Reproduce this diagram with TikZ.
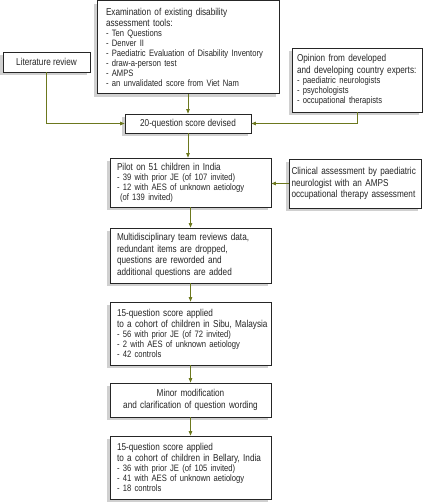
\documentclass[tikz,border=0pt]{standalone}
\usepackage{fontspec}
\setmainfont[FakeStretch=0.82]{Liberation Sans}
\usetikzlibrary{arrows.meta,shadows}

\definecolor{arrowolive}{RGB}{108,120,30}
\definecolor{shadowgrey}{RGB}{208,208,208}
\newcommand{\hdfont}{\fontsize{10}{11.5}\selectfont}
\newcommand{\itfont}{\fontsize{9.3}{10}\selectfont}
\hyphenpenalty=10000
\exhyphenpenalty=10000

\begin{document}
\begin{tikzpicture}[x=1pt, y=-1pt,
  box/.style={draw=black!85, fill=white, line width=0.8pt, text=black!85,
    align=left, inner xsep=7pt, inner ysep=2pt, font=\hdfont,
    general shadow={fill=shadowgrey, shadow xshift=-3pt, shadow yshift=-3pt}},
  cbox/.style={box, align=center},
  arr/.style={draw=arrowolive, line width=0.7pt, -{Triangle[length=4.5pt,width=3.5pt]}}]

\useasboundingbox (0,0) rectangle (424,503);

% sources
\node (exam) at (188,47.3) [box, inner xsep=9pt, text width=164pt, minimum height=93pt]
  {{\hdfont Examination of existing disability\\ assessment tools:\par}%
   {\itfont - Ten Questions\\ - Denver II\\ - Paediatric Evaluation of Disability Inventory\\
    - draw-a-person test\\ - AMPS\\ - an unvalidated score from Viet Nam\par}};
\node (lit) at (46.5,62) [cbox, minimum width=87pt, minimum height=20pt] {Literature review};
\node (opin) at (357,80) [box, inner xsep=5pt, text width=120pt, minimum height=64pt]
  {{\hdfont Opinion from developed\\ and developing country experts:\par}%
   {\itfont - paediatric neurologists\\ - psychologists\\ - occupational therapists\par}};

\node (score20) at (188,123.5) [cbox, minimum width=126pt, minimum height=19pt] {20-question score devised};

% pilot
\node (pilot) at (190.5,182.5) [box, text width=147pt, minimum height=49pt]
  {{\hdfont Pilot on 51 children in India\par}%
   {\itfont - 39 with prior JE (of 107 invited)\\ - 12 with AES of unknown aetiology\\
    \hspace*{3pt}(of 139 invited)\par}};
\node (clin) at (355,183.5) [box, inner xsep=2.5pt, text width=127pt, minimum height=49pt]
  {Clinical assessment by paediatric\\ neurologist with an AMPS\\ occupational therapy assessment};

\node (multi) at (190.5,255.5) [box, text width=147pt, minimum height=55pt]
  {Multidisciplinary team reviews data,\\ redundant items are dropped,\\
   questions are reworded and\\ additional questions are added};

% cohorts
\node (sibu) at (190.5,333.5) [box, text width=147pt, minimum height=63pt]
  {{\hdfont 15-question score applied\\ \mbox{to a cohort of children in Sibu, Malaysia}\par}%
   {\itfont - 56 with prior JE (of 72 invited)\\ - 2 with AES of unknown aetiology\\
    - 42 controls\par}};
\node (minor) at (190.5,400) [cbox, text width=147pt, minimum height=34pt]
  {Minor modification\\ and clarification of question wording};
\node (bell) at (190.5,467.5) [box, text width=147pt, minimum height=63pt]
  {{\hdfont 15-question score applied\\ \mbox{to a cohort of children in Bellary, India}\par}%
   {\itfont - 36 with prior JE (of 105 invited)\\ - 41 with AES of unknown aetiology\\
    - 18 controls\par}};

\draw [arr] (exam.south) -- (score20.north);
\draw [arr] (lit.south) |- (score20.west);
\draw [arr] (opin.south) |- (score20.east);
\draw [arr] (score20.south) -- (score20.south |- pilot.north);
\draw [arr] (clin.west) -- (clin.west -| pilot.east);
\draw [arr] (pilot.south) -- (multi.north);
\draw [arr] (multi.south) -- (sibu.north);
\draw [arr] (sibu.south) -- (minor.north);
\draw [arr] (minor.south) -- (bell.north);

\end{tikzpicture}
\end{document}
